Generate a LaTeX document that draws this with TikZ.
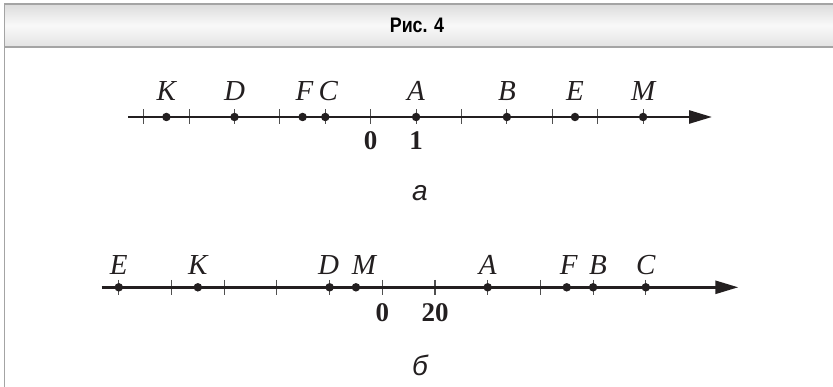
\documentclass[tikz,border=0pt]{standalone}
\usepackage{fontspec}
\setmainfont{Liberation Serif}
\newfontfamily\hdrfont[FakeStretch=0.85]{Liberation Sans}
\newfontfamily\capfont{Liberation Sans}
\usetikzlibrary{arrows.meta}
\definecolor{axisc}{HTML}{231F20}
\definecolor{tickc}{HTML}{505050}
\definecolor{framec}{HTML}{A4A4A4}
\definecolor{bandtop}{HTML}{DCDCDC}
\definecolor{bandmid}{HTML}{F9F9F9}
\definecolor{bandbot}{HTML}{E2E2E2}
\begin{document}
\begin{tikzpicture}[x=1pt,y=-1pt,
  axisline/.style={line width=2.6pt, draw=axisc, -{Triangle[length=23pt,width=13pt]}},
  tickmark/.style={line width=1.1pt, draw=tickc},
  pointdot/.style={circle, fill=axisc, inner sep=0pt, minimum size=8.5pt},
  ptlabel/.style={font=\fontsize{29}{29}\selectfont\itshape, anchor=base, inner sep=0pt, text=axisc},
  numlabel/.style={font=\fontsize{27}{27}\selectfont\bfseries, anchor=base, inner sep=0pt, text=axisc},
  caplabel/.style={font=\fontsize{28}{28}\selectfont\capfont\itshape, anchor=base, inner sep=0pt, text=axisc},
  hdrlabel/.style={font=\fontsize{21}{21}\selectfont\hdrfont\bfseries, inner sep=0pt, text=black}
]
\useasboundingbox (0,0) rectangle (833,387);
% header band
\shade[top color=bandtop, bottom color=bandbot, middle color=bandmid] (4,4) rectangle (833,47);
\draw[framec, line width=1.3pt] (4,4) -- (833,4);
\draw[framec, line width=2pt] (4,47) -- (833,47);
\draw[framec, line width=1.5pt] (4.5,4) -- (4.5,387);
\node[hdrlabel] (hdr) at (417,25.5) {Рис. 4};

% ---------- line a ----------
\def\oa{370.7}\def\ua{45.4}\def\ya{117}
\coordinate (a0) at (128,\ya);
\coordinate (a1) at (712,\ya);
\foreach \k in {-5,...,6}
  \draw[tickmark] ({\oa+\k*\ua},\ya-7.5) -- ({\oa+\k*\ua},\ya+7.5);
\draw[axisline] (a0) -- (a1);
\foreach \n/\v/\dx in {K/-4.5/0, D/-3/0, F/-1.5/2, C/-1/3, A/1/0, B/3/0, E/4.5/0, M/6/0}{
  \node[pointdot] (pa\n) at ({\oa+\v*\ua},\ya) {};
  \node[ptlabel] (la\n) at ({\oa+\v*\ua+\dx},\ya-16) {\n};
}
\node[numlabel] (na0) at (\oa,150) {0};
\node[numlabel] (na1) at ({\oa+\ua},150) {1};
\node[caplabel] (capa) at (420,201) {а};

% ---------- line b ----------
\def\ob{382.3}\def\ub{52.7}\def\yb{287.3}
\coordinate (b0) at (101.7,\yb);
\coordinate (b1) at (738.3,\yb);
\foreach \k in {-5,...,5}
  \draw[tickmark] ({\ob+\k*\ub},\yb-7.5) -- ({\ob+\k*\ub},\yb+7.5);
\draw[axisline] (b0) -- (b1);
\foreach \n/\v/\dx in {E/-5/0, K/-3.5/0, D/-1/-1, M/-0.5/8, A/2/0, F/3.5/2, B/4/5, C/5/0}{
  \node[pointdot] (pb\n) at ({\ob+\v*\ub},\yb) {};
  \node[ptlabel] (lb\n) at ({\ob+\v*\ub+\dx},\yb-12.5) {\n};
}
\node[numlabel] (nb0) at (\ob,322) {0};
\node[numlabel] (nb20) at ({\ob+\ub},322) {20};
\node[caplabel] (capb) at (420,375) {б};
\end{tikzpicture}
\end{document}
